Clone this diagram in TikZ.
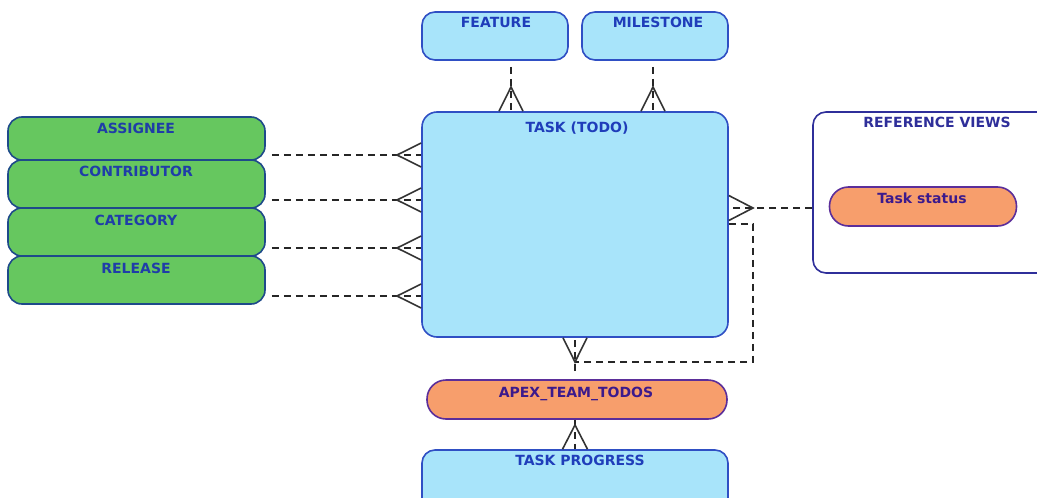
\documentclass[tikz,border=0pt]{standalone}
\usepackage{fontspec}
\setmainfont{DejaVu Sans}
\definecolor{lblue}{HTML}{A8E4FA}
\definecolor{bblue}{HTML}{2F4FC4}
\definecolor{ggreen}{HTML}{66C75F}
\definecolor{gborder}{HTML}{1E4A8A}
\definecolor{orng}{HTML}{F79E6C}
\definecolor{pborder}{HTML}{5B2E9A}
\definecolor{btext}{HTML}{1F3DBA}
\definecolor{gtext}{HTML}{1F3DA8}
\definecolor{otext}{HTML}{3C1A8C}
\definecolor{navy}{HTML}{2F2F9A}
\begin{document}
\begin{tikzpicture}[x=1pt,y=-1pt,
  bluebox/.style={draw=bblue, fill=lblue, line width=1.6pt, rounded corners=13pt, inner sep=0pt},
  greenbox/.style={draw=gborder, fill=ggreen, line width=1.6pt, rounded corners=14pt, inner sep=0pt},
  pill/.style={draw=pborder, fill=orng, line width=1.6pt, rounded corners=19pt, inner sep=0pt},
  refbox/.style={draw=navy, fill=white, line width=1.6pt, rounded corners=13pt, inner sep=0pt},
  lbl/.style={font=\bfseries\fontsize{14}{16}\selectfont, anchor=base, inner sep=0pt},
  conn/.style={draw=black!85, line width=1.3pt, dash pattern=on 7pt off 5pt},
  crow/.style={draw=black!80, line width=1.6pt, line join=miter}]
\useasboundingbox (0,0) rectangle (1037,498);
\clip (0,0) rectangle (1037,498);
\fill[white] (0,0) rectangle (1037,498);

% top boxes
\node[bluebox, minimum width=146pt, minimum height=48pt] (feature) at (495,36) {};
\node[lbl, text=btext] (featureT) at (496,27) {FEATURE};
\node[bluebox, minimum width=146pt, minimum height=48pt] (milestone) at (655,36) {};
\node[lbl, text=btext] (milestoneT) at (658,27) {MILESTONE};

% task
\node[bluebox, rounded corners=15pt, minimum width=306pt, minimum height=225pt] (task) at (575,224.5) {};
\node[lbl, text=btext] (taskT) at (577,132) {TASK (TODO)};

% left boxes
\node[greenbox, minimum width=257pt, minimum height=43pt] (assignee) at (136.5,138.5) {};
\node[lbl, text=gtext] (assigneeT) at (136,133) {ASSIGNEE};
\node[greenbox, minimum width=257pt, minimum height=48pt] (contributor) at (136.5,184) {};
\node[lbl, text=gtext] (contributorT) at (136,176) {CONTRIBUTOR};
\node[greenbox, minimum width=257pt, minimum height=48pt] (category) at (136.5,232) {};
\node[lbl, text=gtext] (categoryT) at (136,225) {CATEGORY};
\node[greenbox, minimum width=257pt, minimum height=48pt] (release) at (136.5,280) {};
\node[lbl, text=gtext] (releaseT) at (136,273) {RELEASE};

% reference views
\node[refbox, minimum width=248pt, minimum height=161pt] (refv) at (937,192.5) {};
\node[lbl, text=navy] (refvT) at (937,127) {REFERENCE VIEWS};
\node[pill, minimum width=187pt, minimum height=39pt] (status) at (923,206.5) {};
\node[lbl, text=otext] (statusT) at (922,203) {Task status};

% bottom
\node[pill, minimum width=300pt, minimum height=39pt] (apex) at (577,399.5) {};
\node[lbl, text=otext] (apexT) at (576,397) {APEX\_TEAM\_TODOS};
\node[bluebox, minimum width=306pt, minimum height=62pt] (progress) at (575,481) {};
\node[lbl, text=btext] (progressT) at (580,465) {TASK PROGRESS};

% top connectors
\coordinate (f1) at (511,87);
\coordinate (m1) at (653,87);
\draw[conn] ([yshift=-6pt]feature.south -| f1) -- (task.north -| f1);
\draw[crow] ([xshift=-12pt]task.north -| f1) -- (f1) -- ([xshift=12pt]task.north -| f1);
\draw[conn] ([yshift=-6pt]milestone.south -| m1) -- (task.north -| m1);
\draw[crow] ([xshift=-12pt]task.north -| m1) -- (m1) -- ([xshift=12pt]task.north -| m1);

% left connectors
\coordinate (a1) at (397,155);
\coordinate (a2) at (397,200);
\coordinate (a3) at (397,248);
\coordinate (a4) at (397,296);
\foreach \c/\n in {a1/assignee, a2/contributor, a3/category, a4/release}{
  \draw[conn] ([xshift=6pt]\n.east |- \c) -- (task.west |- \c);
  \draw[crow] ([yshift=12pt]task.west |- \c) -- (\c) -- ([yshift=-12pt]task.west |- \c);
}

% right connector
\coordinate (r1) at (753,208);
\draw[conn] (refv.west |- r1) -- (task.east |- r1);
\draw[crow] ([yshift=12.5pt]task.east |- r1) -- (r1) -- ([yshift=-12.5pt]task.east |- r1);

% bottom connectors
\coordinate (b1) at (575,362);
\coordinate (e1) at (753,224);
\draw[conn] (task.east |- e1) -- (e1) -- (e1 |- b1) -- (b1);
\draw[conn] ([yshift=8pt]apex.north -| b1) -- (task.south -| b1);
\draw[crow] ([xshift=-12pt]task.south -| b1) -- (b1) -- ([xshift=12pt]task.south -| b1);

\coordinate (p1) at (575,425);
\draw[conn] (apex.south -| p1) -- (progress.north -| p1);
\draw[crow] ([xshift=-12.5pt]progress.north -| p1) -- (p1) -- ([xshift=12.5pt]progress.north -| p1);
\end{tikzpicture}
\end{document}
